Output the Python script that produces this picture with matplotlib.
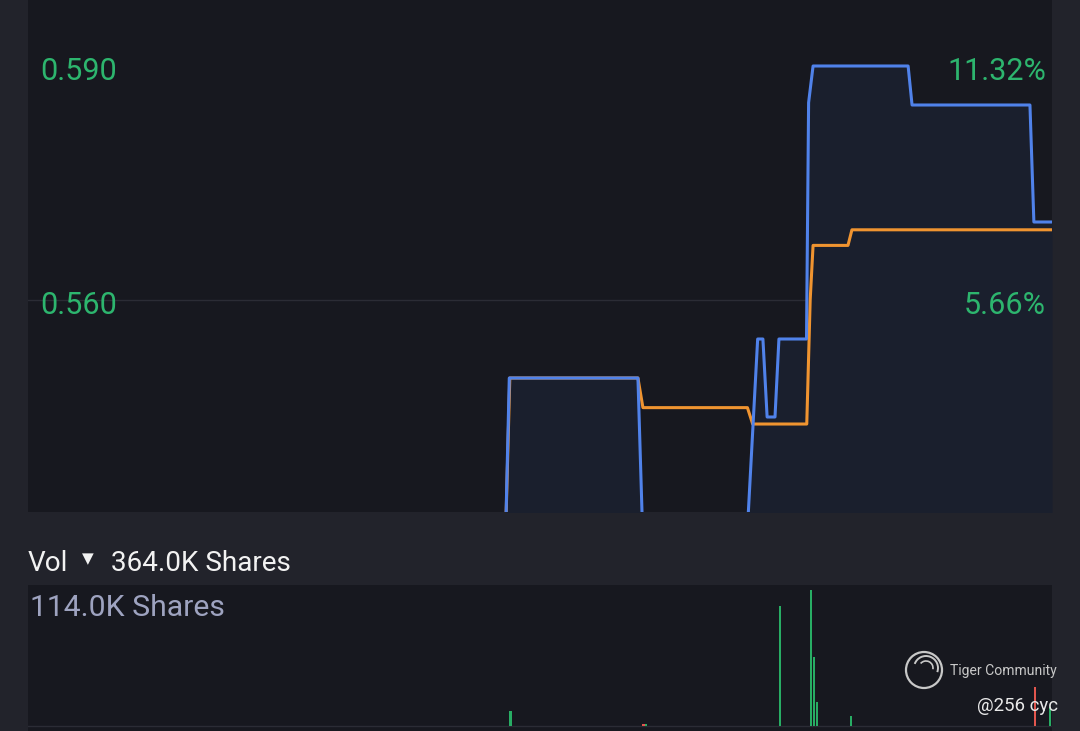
import matplotlib
matplotlib.use("Agg")
import matplotlib.pyplot as plt
from matplotlib.patches import Circle, Arc
import numpy as np

# ---------------- data ----------------
prev_close = 0.530
# minutes since open (0..390) and price / average price breakpoints
price_t = [181.9, 183.3, 232.3, 234.1, 273.9, 277.9, 279.9, 281.5, 284.5, 286.0,
           296.5, 297.3, 299.0, 335.2, 336.7, 381.6, 383.1, 390.0]
price_v = [0.530, 0.550, 0.550, 0.530, 0.530, 0.555, 0.555, 0.545, 0.545, 0.555,
           0.555, 0.5853, 0.590, 0.590, 0.585, 0.585, 0.570, 0.570]
avg_t = [181.9, 183.5, 232.3, 234.2, 274.0, 276.0, 296.6, 297.9, 299.0, 312.3, 313.8, 390.0]
avg_v = [0.530, 0.550, 0.550, 0.5462, 0.5462, 0.5441, 0.5441, 0.5600, 0.5670, 0.5670, 0.5690, 0.5690]

vol_t = [183.7, 234.5, 235.4, 286.4, 298.2, 299.4, 300.5, 313.4, 383.5, 389.2]
vol_k = [12.5, 1.2, 1.3, 100.5, 114.0, 58.0, 20.0, 8.3, 32.5, 15.7]
vol_up = [True, False, True, True, True, True, True, True, False, True]

price_ticks = [0.590, 0.560]

# ---------------- style ----------------
OUTER = "#22232b"
PANEL = "#17181f"
FILL = "#1a1f2d"
BLUE = "#5082ea"
ORANGE = "#f09430"
GREEN = "#2db56e"
VGREEN = "#28ad64"
RED = "#e2564e"
GRID = "#2b2c35"
FONT = ["Roboto", "DejaVu Sans"]

W, H = 1080, 731
fig = plt.figure(figsize=(W / 100, H / 100), dpi=100, facecolor=OUTER)

def rect(x0, y0, x1, y1):
    return [x0 / W, 1 - y1 / H, (x1 - x0) / W, (y1 - y0) / H]

PX = 7800.0  # pixels per price unit
# price panel
ax = fig.add_axes(rect(28, 0, 1052, 512))
ax.set_facecolor(PANEL)
ymin = 0.560 - 212 / PX
ymax = 0.560 + 300 / PX
ax.set_xlim(0, 390)
ax.set_ylim(ymin, ymax)
ax.axhline(0.560, color=GRID, lw=1.0, zorder=1)
ax.fill_between(price_t, price_v, ymin - 0.01, color=FILL, zorder=2, lw=0)
ax.plot(avg_t, avg_v, color=ORANGE, lw=2.2, zorder=3, solid_joinstyle="round")
ax.plot(price_t, price_v, color=BLUE, lw=2.2, zorder=4, solid_joinstyle="round")
for s in ax.spines.values():
    s.set_visible(False)
ax.set_xticks([])
ax.set_yticks([])
for p in price_ticks:
    ax.annotate(f"{p:.3f}", xy=(0, p), xytext=(12.5, -14), textcoords="offset pixels",
                color=GREEN, fontsize=22, family=FONT, va="baseline", ha="left", zorder=5)
    pct = (p / prev_close - 1) * 100
    ax.annotate(f"{pct:.2f}%", xy=(390, p), xytext=(-6, -14), textcoords="offset pixels",
                color=GREEN, fontsize=22, family=FONT, va="baseline", ha="right", zorder=5)

# volume panel
vax = fig.add_axes(rect(28, 585, 1052, 731))
vax.set_facecolor(PANEL)
vax.set_xlim(0, 390)
vax.set_ylim(-4.5, 118.2)
vax.axhline(0, color=GRID, lw=1.0, zorder=1)
vax.bar(vol_t, vol_k, width=1.0, color=[VGREEN if u else RED for u in vol_up],
        zorder=3, lw=0)
for s in vax.spines.values():
    s.set_visible(False)
vax.set_xticks([])
vax.set_yticks([])
vax.annotate(f"{max(vol_k):.1f}K Shares", xy=(0, 118.2), xytext=(2, -31),
             textcoords="offset pixels", color="#9ea3c0", fontsize=21.7, family=FONT,
             va="baseline", ha="left", zorder=5)

# overlay in pixel coordinates for header and watermark
ov = fig.add_axes([0, 0, 1, 1])
ov.set_xlim(0, W)
ov.set_ylim(H, 0)
ov.axis("off")
ov.patch.set_alpha(0)
ov.text(28, 571, "Vol", color="#f2f2f2", fontsize=20.1, family=FONT, va="baseline", ha="left")
ov.text(88, 559, "▼", color="#f2f2f2", fontsize=11, family=["DejaVu Sans"], va="center", ha="center")
ov.text(111, 571, f"{sum(vol_k):.1f}K Shares", color="#f2f2f2", fontsize=20.1,
        family=FONT, va="baseline", ha="left")

wm = "#c8c8c8"
ov.add_patch(Circle((924, 670), 18, fill=False, ec=wm, lw=1.6))
ov.add_patch(Arc((926, 668), 24, 24, theta1=200, theta2=20, ec=wm, lw=1.4))
ov.add_patch(Arc((926, 668), 14, 14, theta1=220, theta2=10, ec=wm, lw=1.2))
ov.text(950, 671, "Tiger Community", color=wm, fontsize=10.1, family=FONT,
        va="center", ha="left")
ov.text(1058, 706, "@256 cyc", color="#e8e8e8", fontsize=13.4, family=FONT,
        va="center", ha="right")

fig.savefig("out.png", dpi=100, facecolor=OUTER)
